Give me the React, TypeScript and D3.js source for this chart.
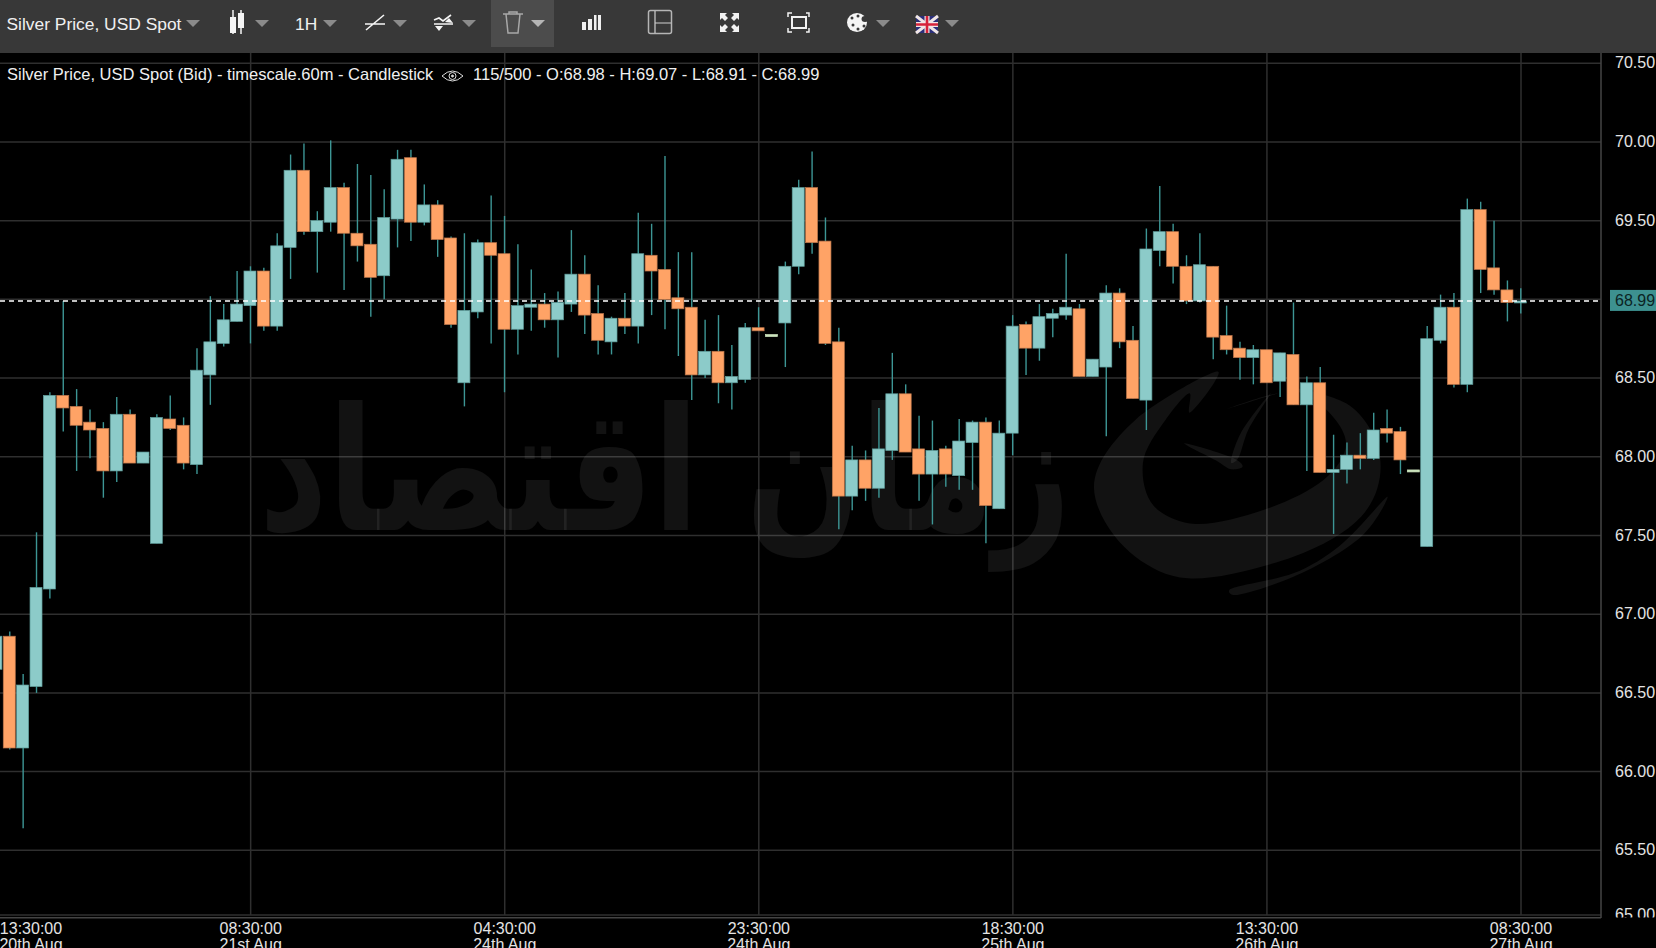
import React, { useRef, useEffect } from 'react';
import * as d3 from 'd3';

// OHLC values, one entry per hourly candle
const opens = [66.65,66.86,66.15,66.54,67.16,68.39,68.32,68.22,68.18,67.91,68.27,67.96,67.45,68.24,68.20,67.95,68.52,68.72,68.86,68.96,69.18,68.83,69.33,69.82,69.43,69.49,69.71,69.42,69.35,69.15,69.51,69.90,69.49,69.60,69.39,68.47,68.92,69.36,69.29,68.81,68.95,68.97,68.87,68.97,69.16,68.91,68.73,68.88,68.83,69.28,69.19,69.01,68.95,68.52,68.67,68.47,68.49,68.82,68.77,68.85,69.21,69.71,69.37,68.73,67.75,67.98,67.80,68.04,68.40,68.05,67.89,68.05,67.88,68.09,68.22,67.67,68.15,68.84,68.69,68.88,68.90,68.94,68.51,68.57,69.04,68.74,68.36,69.31,69.43,69.21,68.99,69.21,68.77,68.69,68.63,68.68,68.48,68.65,68.33,68.47,67.90,67.92,68.01,67.99,68.18,68.16,67.91,67.43,68.74,68.95,68.46,69.57,69.20,69.06,68.98];
const highs = [66.90,66.89,66.62,67.52,68.41,68.99,68.43,68.30,68.22,68.38,68.30,68.03,68.27,68.39,68.25,68.69,69.02,68.97,69.18,69.21,69.20,69.42,69.92,69.99,69.56,70.01,69.74,69.86,69.79,69.70,69.95,69.95,69.73,69.63,69.40,69.42,69.38,69.66,69.53,69.35,69.19,69.04,69.05,69.44,69.28,69.09,68.89,69.04,69.55,69.48,69.91,69.30,69.30,68.87,68.90,68.71,68.85,68.95,68.77,69.24,69.76,69.94,69.52,68.82,68.07,68.04,68.31,68.66,68.46,68.26,68.23,68.07,68.24,68.23,68.25,68.23,68.90,68.86,68.97,68.94,69.29,68.97,68.62,69.09,69.07,68.83,69.45,69.72,69.48,69.28,69.42,69.21,68.96,68.73,68.71,68.68,68.66,68.98,68.51,68.57,68.14,68.09,68.15,68.28,68.30,68.19,67.91,68.83,69.03,69.04,69.64,69.62,69.50,69.12,69.07];
const lows = [66.55,66.14,65.64,66.50,67.10,68.16,67.91,67.99,67.74,67.84,67.96,67.96,67.45,68.17,67.92,67.89,68.33,68.70,68.86,68.72,68.80,68.80,69.13,69.41,69.17,69.43,69.06,69.24,68.89,69.00,69.33,69.37,69.47,69.27,68.82,68.32,68.88,68.72,68.41,68.65,68.80,68.82,68.63,68.92,68.78,68.65,68.65,68.78,68.72,68.90,68.81,68.64,68.36,68.50,68.34,68.30,68.47,68.80,68.77,68.57,69.16,69.29,68.71,67.54,67.66,67.72,67.74,67.98,68.03,67.72,67.57,67.81,67.79,67.79,67.45,67.67,68.01,68.52,68.61,68.76,68.87,68.51,68.51,68.13,68.69,68.37,68.17,69.21,69.10,68.97,68.98,68.62,68.65,68.49,68.46,68.47,68.38,68.33,67.91,67.90,67.51,67.83,67.92,67.98,68.09,67.89,67.91,67.43,68.72,68.44,68.41,69.04,69.03,68.86,68.91];
const closes = [66.86,66.15,66.55,67.17,68.39,68.31,68.20,68.17,67.91,68.27,67.96,68.03,68.25,68.18,67.96,68.55,68.73,68.87,68.97,69.18,68.83,69.34,69.82,69.43,69.50,69.71,69.42,69.34,69.14,69.52,69.89,69.49,69.60,69.38,68.84,68.93,69.36,69.28,68.81,68.96,68.97,68.87,68.98,69.16,68.90,68.74,68.88,68.83,69.29,69.18,69.00,68.94,68.52,68.67,68.47,68.51,68.82,68.80,68.77,69.21,69.71,69.36,68.72,67.75,67.98,67.80,68.05,68.40,68.03,67.89,68.04,67.89,68.10,68.22,67.69,68.15,68.83,68.69,68.89,68.91,68.95,68.51,68.62,69.04,68.73,68.37,69.32,69.43,69.21,68.99,69.22,68.76,68.68,68.63,68.68,68.47,68.66,68.33,68.47,67.90,67.92,68.01,67.99,68.17,68.15,67.98,67.91,68.75,68.95,68.46,69.57,69.19,69.06,68.98,68.99];

const yTicks = [65, 65.5, 66, 66.5, 67, 67.5, 68, 68.5, 69, 69.5, 70, 70.5];
const xTickIdx = [0, 19, 38, 57, 76, 95, 114];
const xTickTimes = ['13:30:00', '08:30:00', '04:30:00', '23:30:00', '18:30:00', '13:30:00', '08:30:00'];
const xTickDates = ['20th Aug', '21st Aug', '24th Aug', '24th Aug', '25th Aug', '26th Aug', '27th Aug'];
const lastPrice = 68.99;

const FONT = '"Liberation Sans", Arial, sans-serif';

// watermark logo outlines, traced in crop pixels
const logoOuter: [number, number][] = [[1300,5],[1190,150],[1135,350],[1190,560],[1260,625],[1400,560],[1490,440],[1515,260],[1470,100],[1400,55],[1440,110],[1470,220],[1440,330],[1360,420],[1270,462],[1220,420],[1200,280],[1230,150],[1262,70],[1262,128]];
const logoTail: [number, number][] = [[1525,380],[1490,500],[1400,620],[1320,675],[1315,660],[1400,610],[1460,530]];
const logoHand: [number, number][] = [[1255,220],[1325,270],[1332,292],[1318,298],[1300,275]];
const logoHand2: [number, number][] = [[1370,70],[1340,180],[1325,270],[1318,280],[1330,190]];
const logoHand3: [number, number][] = [[1310,118],[1360,80],[1380,70],[1350,90]];

const SilverChart = () => {
  const svgRef = useRef<SVGSVGElement>(null);

  useEffect(() => {
    if (!svgRef.current) return;
    const width = 1656;
    const height = 948;
    const headerH = 53;
    const plotBottom = 915;
    const axisX = 1601;

    const svg = d3.select(svgRef.current);
    svg.selectAll('*').remove();
    svg.append('rect').attr('width', width).attr('height', height).attr('fill', '#000');

    const x = d3.scaleLinear().domain([0, 114]).range([-3.4, 1521]);
    // the axis stops short of 65, so that tick sits clamped on the bottom edge
    const y = d3.scaleLinear().domain([65.089, 70.565]).range([plotBottom, headerH]).clamp(true);

    const defs = svg.append('defs');
    defs.append('clipPath').attr('id', 'axisClip').append('rect')
      .attr('x', 0).attr('y', headerH).attr('width', width).attr('height', 917.5 - headerH);

    // y axis + horizontal grid
    const yAxis = d3.axisRight(y).tickValues(yTicks).tickSize(-axisX).tickPadding(14).offset(0)
      .tickFormat(d => (d as number).toFixed(2));
    const yG = svg.append('g').attr('clip-path', 'url(#axisClip)')
      .append('g').attr('transform', `translate(${axisX},0)`).call(yAxis);
    yG.select('.domain').remove();
    yG.selectAll('.tick line').attr('stroke', '#2f2f2f').attr('stroke-width', 1.5);
    yG.selectAll('.tick text').attr('fill', '#e4e4e4').attr('font-size', 16).attr('font-family', FONT);

    // x axis + vertical grid
    const xAxis = d3.axisBottom(x).tickValues(xTickIdx).tickSize(-(plotBottom - headerH)).offset(0).tickFormat(() => '');
    const xG = svg.append('g').attr('transform', `translate(0,${plotBottom})`).call(xAxis);
    xG.select('.domain').remove();
    xG.selectAll('.tick line').attr('stroke', '#2f2f2f').attr('stroke-width', 1.5);

    // frame lines
    svg.append('line').attr('x1', 0).attr('x2', axisX).attr('y1', 917.8).attr('y2', 917.8).attr('stroke', '#444').attr('stroke-width', 1.5);
    svg.append('line').attr('x1', axisX).attr('x2', axisX).attr('y1', headerH).attr('y2', 918).attr('stroke', '#444').attr('stroke-width', 1.5);

    // watermark
    const wm = svg.append('g').attr('fill', '#fff').attr('fill-opacity', 0.07);
    wm.append('text')
      .attr('x', 0).attr('y', 0)
      .attr('transform', 'translate(665,530) scale(1,1.14)')
      .attr('text-anchor', 'middle')
      .attr('direction', 'rtl')
      .attr('font-family', '"DejaVu Sans", sans-serif')
      .attr('font-weight', 'bold')
      .attr('font-size', 150)
      .attr('textLength', 812)
      .attr('lengthAdjust', 'spacingAndGlyphs')
      .text('زمان اقتصاد');
    const logo = wm.append('g').attr('transform', 'translate(240,370) scale(0.7524,0.3333)');
    const outline = d3.line().curve(d3.curveCatmullRomClosed);
    [logoOuter, logoTail, logoHand, logoHand2, logoHand3].forEach(pts => {
      logo.append('path').attr('d', outline(pts));
    });

    // candles
    const idx = d3.range(opens.length);
    const wickW = 1.4;
    const bodyW = 12;
    const fillOf = (i: number) => (closes[i] > opens[i] ? '#8ccbc9' : closes[i] < opens[i] ? '#ffa366' : '#cbe3bd');
    const edgeOf = (i: number) => (closes[i] > opens[i] ? '#5f9c9a' : closes[i] < opens[i] ? '#b9744a' : '#cbe3bd');

    const candles = svg.append('g');
    candles.selectAll('.wick').data(idx).enter().append('line')
      .attr('class', 'wick')
      .attr('x1', i => x(i) - 0.2).attr('x2', i => x(i) - 0.2)
      .attr('y1', i => y(highs[i])).attr('y2', i => y(lows[i]))
      .attr('stroke', '#3d9695').attr('stroke-width', wickW);
    candles.selectAll('.body').data(idx).enter().append('rect')
      .attr('class', 'body')
      .attr('x', i => x(i) - 0.7 - bodyW / 2)
      .attr('width', bodyW)
      .attr('y', i => y(Math.max(opens[i], closes[i])) - (opens[i] === closes[i] ? 1 : 0))
      .attr('height', i => Math.max(Math.abs(y(opens[i]) - y(closes[i])), 2))
      .attr('fill', fillOf)
      .attr('stroke', edgeOf)
      .attr('stroke-width', 0.7);

    // current price line and tag
    svg.append('line').attr('x1', 0).attr('x2', axisX)
      .attr('y1', y(lastPrice)).attr('y2', y(lastPrice))
      .attr('stroke', '#fff').attr('stroke-width', 1.4).attr('stroke-dasharray', '5,4');
    svg.append('rect').attr('x', 1610).attr('y', y(lastPrice) - 11).attr('width', 46).attr('height', 21).attr('fill', '#3d9190');
    svg.append('text').attr('x', 1615).attr('y', y(lastPrice) + 5).attr('fill', '#0b2424')
      .attr('font-size', 16).attr('font-family', FONT).text(lastPrice.toFixed(2));

    // x tick labels, first one is pushed back on screen
    xTickIdx.forEach((t, i) => {
      const cx = Math.max(x(t), 31);
      const label = svg.append('text').attr('text-anchor', 'middle').attr('fill', '#e4e4e4')
        .attr('font-size', 16).attr('font-family', FONT);
      label.append('tspan').attr('x', cx).attr('y', 934).text(xTickTimes[i]);
      label.append('tspan').attr('x', cx).attr('y', 950).text(xTickDates[i]);
    });

    // header bar
    const head = svg.append('g');
    head.append('rect').attr('width', width).attr('height', headerH).attr('fill', '#383838');
    head.append('rect').attr('x', 491).attr('y', 0).attr('width', 63).attr('height', 47).attr('fill', '#4c4c4c');
    const label = (tx: number, s: string) => head.append('text').attr('x', tx).attr('y', 30)
      .attr('fill', '#f0f0f0').attr('font-size', 17.4).attr('font-family', FONT).text(s);
    label(6.5, 'Silver Price, USD Spot');
    label(295, '1H');

    [186, 255, 323, 393, 462, 531, 876, 945].forEach(cx => {
      head.append('path').attr('d', `M${cx},20 h14 l-7,7 z`).attr('fill', cx === 531 ? '#b5b5b5' : '#8b8b8b');
    });

    const icon = (d: string, fill: string, stroke: string, sw = 1.5) =>
      head.append('path').attr('d', d).attr('fill', fill).attr('stroke', stroke).attr('stroke-width', sw);
    // candlestick
    icon('M233,10V34 M241,10V34', 'none', '#f5f5f5', 1.5);
    icon('M230,17h6v16h-6z M238,13h6v15h-6z', '#f5f5f5', 'none');
    // line tool
    icon('M365,24H385 M366,30L384,15', 'none', '#f5f5f5', 1.6);
    // pattern tool
    icon('M434,20l5,-2 l4,3 l8,-6 M434,24H453', 'none', '#f5f5f5', 1.6);
    icon('M435,26h8l-4,5z M445,22l4,-4l4,5z', '#f5f5f5', 'none');
    // trash
    icon('M503,14H523 M509,14V12H517V14 M506,14L508,33H518L520,14', 'none', '#a8a8a8', 1.5);
    // bars
    icon('M582,22h4v8h-4z M588,19h4v11h-4z M594,15h2.5v15h-2.5z M598,15h3v15h-3z', '#f0f0f0', 'none');
    // split layout
    head.append('rect').attr('x', 648.5).attr('y', 10.5).attr('width', 23).attr('height', 23).attr('rx', 2)
      .attr('fill', 'none').attr('stroke', '#b5b5b5').attr('stroke-width', 1.5);
    icon('M655,11V33 M655,23H671', 'none', '#cfcfcf', 1.2);
    // fit arrows
    icon('M720,13h7l-2,2l3,3l-3,3l-3,-3l-2,2z M739,13v7l-2,-2l-3,3l-3,-3l3,-3l-2,-2z M720,32v-7l2,2l3,-3l3,3l-3,3l2,2z M739,32h-7l2,-2l-3,-3l3,-3l3,3l2,-2z', '#f2f2f2', 'none');
    // frame
    icon('M792,17h14v11h-14z', 'none', '#f2f2f2', 2);
    icon('M788,17v-4h4 M806,13h3v4 M788,28v4h4 M809,28v4h-3', 'none', '#f2f2f2', 1.5);
    // palette
    head.append('ellipse').attr('cx', 857).attr('cy', 22.5).attr('rx', 10).attr('ry', 9.5).attr('fill', '#f5f5f5');
    head.append('ellipse').attr('cx', 865).attr('cy', 19).attr('rx', 3.5).attr('ry', 3).attr('fill', '#383838');
    [[852, 18], [858, 16], [853, 25], [858, 29], [864, 26]].forEach(([cx, cy]) => {
      head.append('circle').attr('cx', cx).attr('cy', cy).attr('r', 1.5).attr('fill', '#383838');
    });
    // flag
    head.append('rect').attr('x', 916).attr('y', 16).attr('width', 22).attr('height', 17).attr('fill', '#2b2f7a');
    icon('M916,16L938,33 M938,16L916,33', 'none', '#f0e6e6', 3);
    icon('M927,16V33 M916,24.5H938', 'none', '#f0e6e6', 5);
    icon('M927,16V33 M916,24.5H938', 'none', '#d6223a', 2.6);

    // legend line under the bar
    const legend = svg.append('g').attr('font-size', 16.5).attr('font-family', FONT).attr('fill', '#f0f0f0');
    legend.append('text').attr('x', 7).attr('y', 80).text('Silver Price, USD Spot (Bid) - timescale.60m - Candlestick');
    legend.append('text').attr('x', 473).attr('y', 80).text(`115/500 - O:${opens[114].toFixed(2)} - H:${highs[114].toFixed(2)} - L:${lows[114].toFixed(2)} - C:${closes[114].toFixed(2)}`);
    const eye = svg.append('g').attr('fill', 'none').attr('stroke', '#dcdcdc').attr('stroke-width', 1);
    eye.append('path').attr('d', 'M442,76 Q452.5,66 463,76 Q452.5,86 442,76 z');
    eye.append('circle').attr('cx', 452.5).attr('cy', 76).attr('r', 3.5);
    eye.append('circle').attr('cx', 452.5).attr('cy', 76).attr('r', 1).attr('fill', '#dcdcdc');
  }, []);

  return <svg ref={svgRef} width={1656} height={948} style={{ position: 'fixed', left: 0, top: 0 }} />;
};

export default function App() {
  return <SilverChart />;
}
